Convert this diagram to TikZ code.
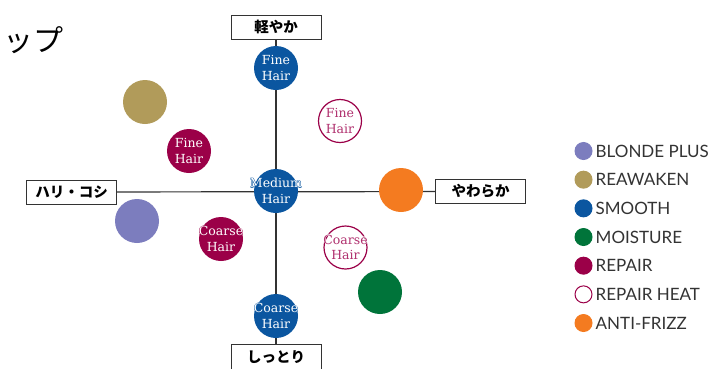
\documentclass[tikz,border=0pt]{standalone}
\usepackage{fontspec}
\newfontfamily\jpfont{Noto Sans CJK JP}
\newfontfamily\hairfont{DejaVu Serif}
\newfontfamily\keyfont{Lato}
\definecolor{smooth}{HTML}{0B56A0}
\definecolor{repair}{HTML}{9B0048}
\definecolor{repairtext}{HTML}{B0306E}
\definecolor{reawaken}{HTML}{B19B5A}
\definecolor{blonde}{HTML}{7C7DBE}
\definecolor{moisture}{HTML}{00743A}
\definecolor{antifrizz}{HTML}{F47B20}
\definecolor{axisgray}{HTML}{333333}
\newcommand{\edgeword}[2]{\makebox[0pt]{%
	\makebox[0pt]{\kern-0.6pt\textcolor{#1}{#2}}%
	\makebox[0pt]{\kern0.6pt\textcolor{#1}{#2}}%
	\makebox[0pt]{\raisebox{0.6pt}{\textcolor{#1}{#2}}}%
	\makebox[0pt]{\raisebox{-0.6pt}{\textcolor{#1}{#2}}}%
	\makebox[0pt]{#2}}}
\newcommand{\hairlines}[3]{\edgeword{#1}{#2}\\\edgeword{#1}{#3}}
\tikzset{
	hair/.style={circle,minimum size=44pt,inner sep=0pt,align=center,text=white,font=\hairfont\fontsize{12.5}{15.5}\selectfont},
	heat/.style={hair,draw=repair,line width=1.2pt,fill=white,minimum size=43pt,text=repairtext},
	dot/.style={circle,minimum size=44pt,inner sep=0pt},
	axisbox/.style={draw=axisgray,fill=white,line width=0.9pt,minimum width=90pt,minimum height=24pt,font=\jpfont\bfseries\fontsize{14.5}{16}\selectfont},
	keydot/.style={circle,minimum size=17pt,inner sep=0pt},
	keytext/.style={anchor=west,inner sep=0pt,text=axisgray,font=\keyfont\fontsize{17}{20}\selectfont}
}

\begin{document}
\begin{tikzpicture}[x=1pt,y=-1pt]
	\useasboundingbox (0,0) rectangle (719,368);
	\node[anchor=west,inner sep=0pt,font=\jpfont\fontsize{30}{30}\selectfont] (title) at (3,40) {ップ};
	\node[axisbox] (light) at (276,27) {軽やか};
	\node[axisbox,minimum height=26pt] (moist) at (276,357) {しっとり};
	\node[axisbox] (firm) at (71.5,192) {ハリ・コシ};
	\node[axisbox] (soft) at (480.5,191.5) {やわらか};
	\draw[axisgray,line width=1.2pt] (light) -- (moist);
	\draw[axisgray,line width=1.2pt] (firm) -- (soft);
	\node[hair,fill=smooth] (smoothfine) at (276,68) {\hairlines{smooth}{Fine}{Hair}};
	\node[hair,fill=smooth] (smoothmedium) at (276,191) {\hairlines{smooth}{Medium}{Hair}};
	\node[hair,fill=smooth] (smoothcoarse) at (276,316) {\hairlines{smooth}{Coarse}{Hair}};
	\node[hair,fill=repair] (repairfine) at (189,151) {\hairlines{repair}{Fine}{Hair}};
	\node[hair,fill=repair] (repaircoarse) at (221,239) {\hairlines{repair}{Coarse}{Hair}};
	\node[heat] (heatfine) at (340,121) {\hairlines{white}{Fine}{Hair}};
	\node[heat] (heatcoarse) at (345.5,247.5) {\hairlines{white}{Coarse}{Hair}};
	\node[dot,fill=reawaken] (reawaken) at (145,102) {};
	\node[dot,fill=blonde] (blonde) at (137,221) {};
	\node[dot,fill=antifrizz] (antifrizz) at (401,190) {};
	\node[dot,fill=moisture] (moisture) at (380,292) {};
	\foreach \f/\d/\t [count=\i] in {blonde/blonde/BLONDE PLUS,reawaken/reawaken/REAWAKEN,smooth/smooth/SMOOTH,moisture/moisture/MOISTURE,repair/repair/REPAIR,white/repair/REPAIR HEAT,antifrizz/antifrizz/ANTI-FRIZZ}{
		\node[keydot,fill=\f,draw=\d,line width=1pt] (key\i) at (583.5,{151+28.67*(\i-1)}) {};
		\node[keytext] (keylabel\i) at ([xshift=3pt]key\i.east) {\t};
	}
\end{tikzpicture}
\end{document}
